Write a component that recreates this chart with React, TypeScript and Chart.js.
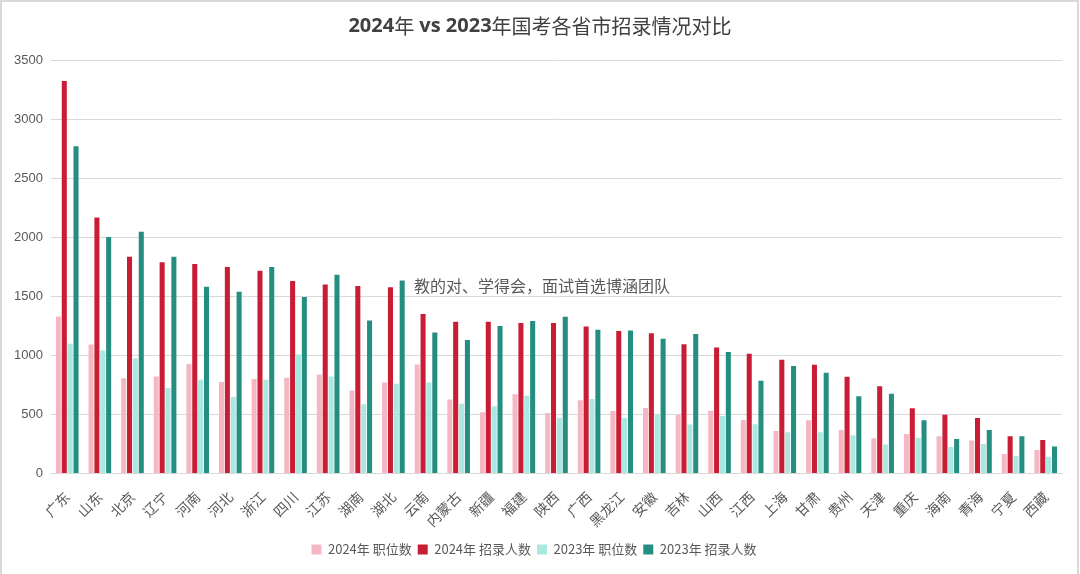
import React, { useEffect, useRef } from "react";
import { Chart, registerables } from "chart.js";

Chart.register(...registerables);

const provinces = ["广东","山东","北京","辽宁","河南","河北","浙江","四川","江苏","湖南","湖北","云南","内蒙古","新疆","福建","陕西","广西","黑龙江","安徽","吉林","山西","江西","上海","甘肃","贵州","天津","重庆","海南","青海","宁夏","西藏"];
const posts2024 = [1329,1091,806,820,927,775,800,811,837,702,769,923,626,517,671,511,620,529,554,494,530,453,360,450,368,297,334,314,278,164,198];
const hires2024 = [3322,2166,1835,1787,1773,1747,1716,1628,1600,1586,1577,1349,1283,1283,1274,1274,1243,1206,1186,1094,1067,1014,963,921,819,737,552,496,470,314,283];
const posts2023 = [1097,1040,972,724,794,647,794,1006,820,586,760,769,589,569,657,471,631,469,500,414,487,416,348,348,323,244,303,224,249,147,142];
const hires2023 = [2770,2001,2047,1835,1580,1538,1747,1493,1682,1294,1634,1194,1129,1249,1291,1326,1217,1211,1140,1180,1028,785,909,853,654,674,450,292,368,314,227];
const yTicks = [0,500,1000,1500,2000,2500,3000,3500];
const seriesNames = ["2024年 职位数","2024年 招录人数","2023年 职位数","2023年 招录人数"];
const seriesColors = ["#F5B8C2","#C91C35","#AAE8E2","#268E80"];

const titleParts: [string, boolean][] = [["2024", true],["年", false],[" vs 2023", true],["年国考各省市招录情况对比", false]];
const watermark = "教的对、学得会，面试首选博涵团队";

const decorPlugin = {
  id: "decor",
  afterDraw(chart: any) {
    const ctx = chart.ctx;
    ctx.save();
    ctx.strokeStyle = "#d9d9d9";
    ctx.lineWidth = 2;
    ctx.beginPath();
    ctx.moveTo(1, chart.height);
    ctx.lineTo(1, 1);
    ctx.lineTo(chart.width - 2, 1);
    ctx.lineTo(chart.width - 2, chart.height);
    ctx.stroke();
    const fontFor = (b: boolean) => b ? "bold 20px 'Open Sans', 'Noto Sans CJK SC'" : "20px 'Noto Sans CJK SC'";
    let total = 0;
    for (const [t, b] of titleParts) { ctx.font = fontFor(b); total += ctx.measureText(t).width; }
    let x = chart.width / 2 - total / 2;
    ctx.fillStyle = "#404040";
    ctx.textBaseline = "middle";
    ctx.textAlign = "left";
    for (const [t, b] of titleParts) { ctx.font = fontFor(b); ctx.fillText(t, x, 26); x += ctx.measureText(t).width; }
    ctx.font = "16px 'Noto Sans CJK SC'";
    ctx.fillStyle = "#595959";
    ctx.fillText(watermark, 414, 286);
    ctx.restore();
  },
};

export default function App() {
  const ref = useRef<HTMLCanvasElement>(null);
  useEffect(() => {
    document.body.style.margin = "0";
    const chart = new Chart(ref.current!, {
      type: "bar",
      data: {
        labels: provinces,
        datasets: [posts2024, hires2024, posts2023, hires2023].map((d, i) => ({
          label: seriesNames[i],
          data: d,
          backgroundColor: seriesColors[i],
          categoryPercentage: 0.72,
          barPercentage: 0.86,
        })),
      },
      options: {
        responsive: false,
        animation: false,
        layout: { padding: { top: 60, left: 6, right: 18, bottom: 8 } },
        plugins: {
          legend: {
            position: "bottom",
            labels: {
              boxWidth: 10,
              boxHeight: 10,
              padding: 6,
              color: "#595959",
              font: { size: 13, family: "'Noto Sans CJK SC'" },
            },
          },
          tooltip: { enabled: false },
        },
        scales: {
          x: {
            grid: { display: false },
            border: { color: "#d9d9d9" },
            ticks: {
              minRotation: 45,
              maxRotation: 45,
              color: "#595959",
              font: { size: 14, family: "'Noto Sans CJK SC'" },
              padding: 7,
            },
          },
          y: {
            min: 0,
            max: yTicks[yTicks.length - 1],
            afterBuildTicks: (axis: any) => { axis.ticks = yTicks.map((v) => ({ value: v })); },
            grid: { color: "#d9d9d9", drawTicks: false },
            border: { display: false },
            ticks: {
              color: "#595959",
              padding: 8,
              font: { size: 13, family: "'Liberation Sans'" },
              callback: (v: any) => String(v),
            },
          },
        },
      },
      plugins: [decorPlugin],
    });
    return () => chart.destroy();
  }, []);
  return <canvas ref={ref} width={1080} height={574} style={{ display: "block" }} />;
}
